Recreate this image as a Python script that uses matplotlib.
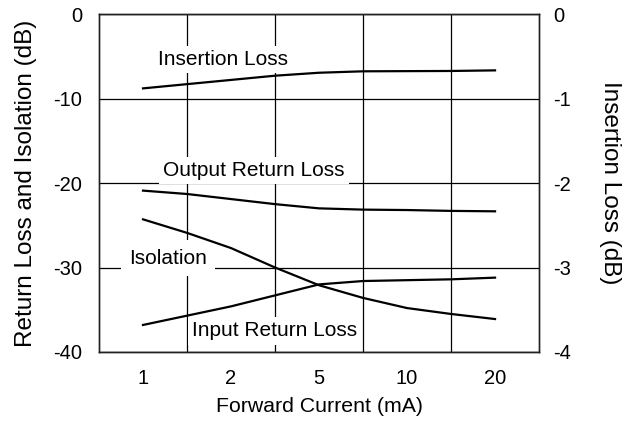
import matplotlib
matplotlib.use("Agg")
import matplotlib.pyplot as plt

plt.rcParams['font.family'] = ['Liberation Sans', 'DejaVu Sans']
plt.rcParams['axes.unicode_minus'] = False

# x categories (forward current, mA) shown at equal spacing
currents = ['1', '2', '5', '10', '20']
pos = [0, 0.5, 1, 1.5, 2, 2.5, 3, 3.5, 4]

insertion_loss = [-0.88, -0.83, -0.78, -0.73, -0.695, -0.678, -0.676, -0.674, -0.667]
output_rl = [-20.9, -21.3, -21.9, -22.5, -23.0, -23.15, -23.2, -23.3, -23.35]
isolation = [-24.3, -25.9, -27.7, -30.0, -32.1, -33.6, -34.8, -35.5, -36.1]
input_rl = [-36.8, -35.7, -34.6, -33.3, -32.0, -31.6, -31.5, -31.4, -31.2]

fig = plt.figure(figsize=(6.29, 4.30), dpi=100)
ax = fig.add_axes([0.1574, 0.1814, 0.6996, 0.786])
ax2 = ax.twinx()

lw = 1.6
ax.plot(pos, output_rl, color='black', lw=lw, zorder=3)
ax.plot(pos, isolation, color='black', lw=lw, zorder=3)
ax.plot(pos, input_rl, color='black', lw=lw, zorder=3)
ax2.plot(pos, insertion_loss, color='black', lw=lw, zorder=3)

ax.set_xlim(-0.5, 4.5)
ax.set_ylim(-40, 0)
ax2.set_ylim(-4, 0)

ax.set_xticks(range(len(currents)))
ax.set_xticklabels(currents)
ax.set_xticks([0.5, 1.5, 2.5, 3.5], minor=True)
ax.set_yticks([0, -10, -20, -30, -40])
ax2.set_yticks([0, -1, -2, -3, -4])

ax.grid(which='minor', axis='x', color='black', lw=0.9)
ax.grid(which='major', axis='y', color='black', lw=0.9)
ax.set_axisbelow(True)

ax.tick_params(axis='x', which='both', length=0, labelsize=14.5, pad=12)
ax.tick_params(axis='y', length=0, labelsize=14.5, pad=12)
ax2.tick_params(axis='y', length=0, labelsize=14.5, pad=10)

for a in (ax, ax2):
    for s in a.spines.values():
        s.set_color('#222222')
        s.set_linewidth(1.0)

ax.set_xlabel('Forward Current (mA)', fontsize=15.3, labelpad=7)
ax.set_ylabel('Return Loss and Isolation (dB)', fontsize=17.5, labelpad=12)
ax2.set_ylabel('Insertion Loss (dB)', fontsize=17.5, rotation=-90, labelpad=36)

box = dict(facecolor='white', edgecolor='none', pad=3)
ax.text(0.17, -5.4, 'Insertion Loss', fontsize=15, va='center', ha='left', bbox=box, zorder=2)
ax.text(0.23, -18.5, 'Output Return Loss', fontsize=15, va='center', ha='left', bbox=box, zorder=2)
ax.text(-0.16, -28.9, 'Isolation', fontsize=15, va='center', ha='left',
        bbox=dict(facecolor='white', edgecolor='none', pad=6), zorder=2)
ax.text(0.56, -37.5, 'Input Return Loss', fontsize=15, va='center', ha='left', bbox=box, zorder=2)

fig.savefig('out.png', dpi=100)
